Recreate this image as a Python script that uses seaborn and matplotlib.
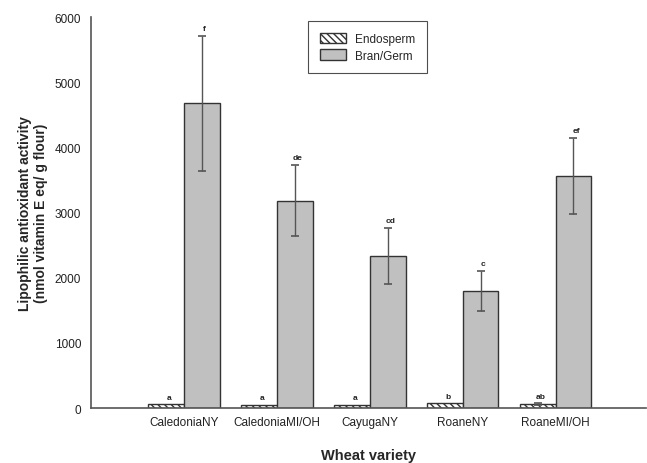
import matplotlib
matplotlib.use("Agg")
import matplotlib.pyplot as plt
import seaborn as sns
import pandas as pd
import numpy as np
from matplotlib.patches import Patch

varieties = ["CaledoniaNY", "CaledoniaMI/OH", "CayugaNY", "RoaneNY", "RoaneMI/OH"]
endo_vals = [55, 50, 45, 70, 55]
endo_err = [0, 0, 0, 0, 15]
bran_vals = [4680, 3180, 2330, 1795, 3560]
bran_err = [1035, 545, 430, 305, 585]
endo_letters = ["a", "a", "a", "b", "ab"]
bran_letters = ["f", "de", "cd", "c", "ef"]
fractions = ["Endosperm", "Bran/Germ"]

df = pd.DataFrame({
    "variety": varieties * 2,
    "fraction": [fractions[0]] * 5 + [fractions[1]] * 5,
    "value": endo_vals + bran_vals,
})

sns.set_style("white")
plt.rcParams["font.family"] = ["Liberation Sans", "DejaVu Sans"]
plt.rcParams["hatch.linewidth"] = 1.0

fig = plt.figure(figsize=(6.47, 4.64), dpi=100)
ax = fig.add_axes([0.1406, 0.1185, 0.8574, 0.8425])

sns.barplot(data=df, x="variety", y="value", hue="fraction", order=varieties,
            hue_order=fractions, palette=["white", "#c0c0c0"], width=0.77,
            errorbar=None, edgecolor="#333333", linewidth=1.0, ax=ax, legend=False)

errs = [endo_err, bran_err]
vals = [endo_vals, bran_vals]
letters = [endo_letters, bran_letters]
bar_containers = list(ax.containers)
for ci, cont in enumerate(bar_containers):
    for bi, bar in enumerate(cont.patches):
        if ci == 0:
            bar.set_hatch("\\\\\\\\\\")
        xc = bar.get_x() + bar.get_width() / 2
        e = errs[ci][bi]
        v = vals[ci][bi]
        if e > 0:
            ax.errorbar(xc, v, yerr=e, fmt="none", ecolor="#555555",
                        elinewidth=1.0, capsize=3, capthick=1.2)
        ax.text(xc + 0.03, v + e + 60, letters[ci][bi], ha="center", va="bottom",
                fontsize=6, fontweight="bold", color="#222222")

ax.set_xlim(-1, 4.97)
ax.set_ylim(0, 6000)
ax.set_yticks(range(0, 6001, 1000))
ax.tick_params(axis="x", length=0, labelsize=8.5, colors="#222222", pad=6)
ax.tick_params(axis="y", length=0, labelsize=8.5, colors="#222222", pad=7)
for s in ["top", "right"]:
    ax.spines[s].set_visible(False)
for s in ["left", "bottom"]:
    ax.spines[s].set_color("#555555")
    ax.spines[s].set_linewidth(1.2)

ax.set_xlabel("Wheat variety", fontsize=10.5, fontweight="bold", labelpad=14)
ax.set_ylabel("Lipophilic antioxidant activity\n(nmol vitamin E eq/ g flour)",
              fontsize=10, fontweight="bold", labelpad=5)

handles = [Patch(facecolor="white", edgecolor="#333333", hatch="\\\\\\\\\\", label="Endosperm"),
           Patch(facecolor="#c0c0c0", edgecolor="#333333", label="Bran/Germ")]
leg = ax.legend(handles=handles, loc="upper left", bbox_to_anchor=(0.391, 0.99),
                fontsize=8.5, frameon=True, fancybox=False, borderpad=1.0,
                handlelength=2.2, handleheight=1.0, labelspacing=0.35,
                borderaxespad=0)
leg.get_frame().set_edgecolor("#222222")
leg.get_frame().set_linewidth(0.8)

fig.savefig("out.png", dpi=100)
